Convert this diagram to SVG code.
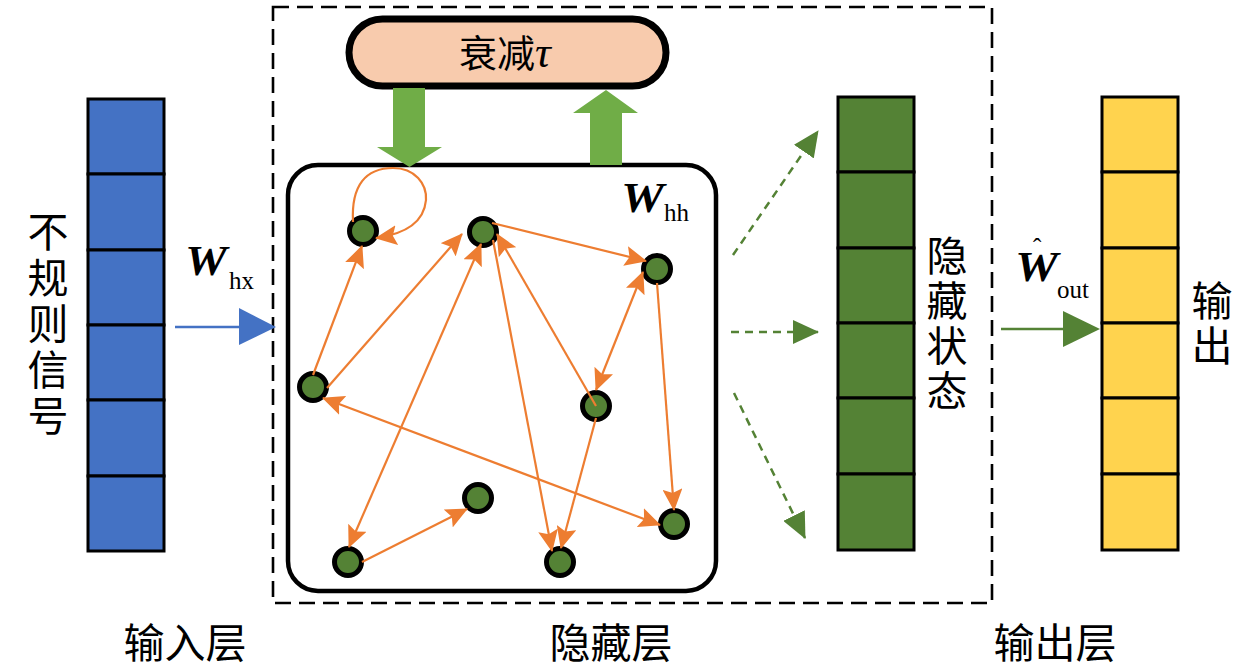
<svg xmlns="http://www.w3.org/2000/svg" width="1260" height="669" viewBox="0 0 1260 669">
<style>
.cjk{font-family:"Noto Sans CJK SC","Noto Sans",sans-serif;fill:#000;}
.lbl{font-size:41px;}
.vt{writing-mode:vertical-rl;}
.cell{stroke:#000;stroke-width:3;}
.in{fill:#4472C4;}
.hid{fill:#548235;}
.out{fill:#FFD34E;}
.node{fill:#548235;stroke:#000;stroke-width:5;}
.edge{fill:none;stroke:#ED7D31;stroke-width:2.2;marker-end:url(#oa);}
.bi{marker-start:url(#oa);}
.dash{fill:none;stroke:#548235;stroke-width:2.5;stroke-dasharray:8 6;marker-end:url(#ga);}
.math{font-family:"Liberation Serif",serif;}
.mw{font-style:italic;font-weight:bold;font-size:42px;}
.sub{font-style:normal;font-weight:normal;font-size:25px;}
</style>
<defs>
<marker id="oa" markerUnits="userSpaceOnUse" markerWidth="22" markerHeight="20" refX="21" refY="10" orient="auto-start-reverse" viewBox="0 0 22 20">
<path d="M0,0 L22,10 L0,20 L4,10 z" fill="#ED7D31"/>
</marker>
<marker id="ga" markerUnits="userSpaceOnUse" markerWidth="26" markerHeight="24" refX="25" refY="12" orient="auto" viewBox="0 0 26 24">
<path d="M0,0 L26,12 L0,24 z" fill="#548235"/>
</marker>
</defs>
<rect width="1260" height="669" fill="#fff"/>

<g id="hidden-layer-frame">
<rect x="273" y="7" width="719" height="596" fill="none" stroke="#000" stroke-width="2.6" stroke-dasharray="16 8"/>
</g>

<g id="input-column">
<rect class="cell in" x="88" y="99" width="76" height="75"/>
<rect class="cell in" x="88" y="174" width="76" height="76"/>
<rect class="cell in" x="88" y="250" width="76" height="75"/>
<rect class="cell in" x="88" y="325" width="76" height="75"/>
<rect class="cell in" x="88" y="400" width="76" height="76"/>
<rect class="cell in" x="88" y="476" width="76" height="75"/>
</g>
<g id="input-label">
<text class="cjk lbl vt" x="48" y="211" letter-spacing="5">不规则信号</text>
</g>

<g id="hidden-state-column">
<rect class="cell hid" x="838" y="97" width="76" height="75"/>
<rect class="cell hid" x="838" y="172" width="76" height="76"/>
<rect class="cell hid" x="838" y="248" width="76" height="75"/>
<rect class="cell hid" x="838" y="323" width="76" height="75"/>
<rect class="cell hid" x="838" y="398" width="76" height="76"/>
<rect class="cell hid" x="838" y="474" width="76" height="76"/>
</g>
<g id="hidden-state-label">
<text class="cjk lbl vt" x="947" y="235" letter-spacing="4">隐藏状态</text>
</g>

<g id="output-column">
<rect class="cell out" x="1102" y="97" width="76" height="75"/>
<rect class="cell out" x="1102" y="172" width="76" height="76"/>
<rect class="cell out" x="1102" y="248" width="76" height="75"/>
<rect class="cell out" x="1102" y="323" width="76" height="75"/>
<rect class="cell out" x="1102" y="398" width="76" height="76"/>
<rect class="cell out" x="1102" y="474" width="76" height="76"/>
</g>
<g id="output-label">
<text class="cjk lbl vt" x="1212" y="280" letter-spacing="4">输出</text>
</g>

<g id="decay">
<rect x="349" y="19" width="317" height="67" rx="33.5" fill="#F8CBAD" stroke="#000" stroke-width="7"/>
<text x="459" y="67" class="cjk" font-size="38">衰减<tspan font-family="Liberation Serif,serif" font-style="italic" font-size="44">τ</tspan></text>
</g>

<g id="reservoir">
<rect x="288" y="165" width="428" height="426" rx="30" fill="#fff" stroke="#000" stroke-width="4.5"/>
<text class="math mw" x="621" y="212"><tspan textLength="43" lengthAdjust="spacingAndGlyphs">W</tspan><tspan class="sub" x="664" y="221">hh</tspan></text>
</g>

<g id="n1"><circle class="node" cx="363" cy="231" r="13.5"/></g>
<g id="n2"><circle class="node" cx="483" cy="232" r="13.5"/></g>
<g id="n3"><circle class="node" cx="657" cy="269" r="13.5"/></g>
<g id="n4"><circle class="node" cx="313" cy="387" r="13.5"/></g>
<g id="n5"><circle class="node" cx="596" cy="406" r="13.5"/></g>
<g id="n6"><circle class="node" cx="478" cy="498" r="13.5"/></g>
<g id="n7"><circle class="node" cx="348" cy="562" r="13.5"/></g>
<g id="n8"><circle class="node" cx="560" cy="562" r="13.5"/></g>
<g id="n9"><circle class="node" cx="674" cy="524" r="13.5"/></g>

<g id="connectors">
<path class="edge" d="M353,222 C351,185 366,168 393,168 C415,168 427,184 426,200 C424,222 405,234 376,238"/>
<line class="edge" x1="313" y1="375" x2="362" y2="246"/>
<line class="edge" x1="327" y1="388" x2="462" y2="234"/>
<line class="edge bi" x1="349" y1="547" x2="481" y2="244"/>
<line class="edge" x1="493" y1="240" x2="552" y2="551"/>
<line class="edge" x1="596" y1="406" x2="497" y2="234"/>
<line class="edge" x1="492" y1="223" x2="646" y2="261"/>
<line class="edge bi" x1="643" y1="272" x2="596" y2="390"/>
<line class="edge" x1="657" y1="283" x2="674" y2="510"/>
<line class="edge" x1="596" y1="418" x2="561" y2="548"/>
<line class="edge bi" x1="323" y1="398" x2="660" y2="525"/>
<line class="edge" x1="362" y1="562" x2="467" y2="509"/>

<polygon points="393,88 425,88 425,147 442,147 409.5,167 377,147 393,147" fill="#70AD47"/>
<polygon points="590,165 622,165 622,113 638,113 606,90 573,113 590,113" fill="#70AD47"/>

<line x1="175" y1="327" x2="242" y2="327" stroke="#4472C4" stroke-width="2.5"/>
<polygon points="239,308 276,327 239,345" fill="#4472C4"/>

<line class="dash" x1="733" y1="255" x2="818" y2="131"/>
<line class="dash" x1="731" y1="332" x2="818" y2="332"/>
<line class="dash" x1="734" y1="393" x2="805" y2="538"/>

<line x1="1001" y1="329" x2="1066" y2="329" stroke="#548235" stroke-width="2.5"/>
<polygon points="1063,311 1100,329 1063,347" fill="#548235"/>
</g>

<g id="weight-labels">
<text class="math mw" x="185" y="275"><tspan textLength="42" lengthAdjust="spacingAndGlyphs">W</tspan><tspan class="sub" x="229" y="289">hx</tspan></text>
<text class="math mw" x="1015" y="281"><tspan class="sub" x="1033" y="256" font-size="24">ˆ</tspan><tspan x="1015" y="281" textLength="43" lengthAdjust="spacingAndGlyphs">W</tspan><tspan class="sub" x="1057" y="298">out</tspan></text>
</g>

<g id="layer-labels">
<text x="185" y="658" class="cjk lbl" text-anchor="middle">输入层</text>
<text x="611" y="658" class="cjk lbl" text-anchor="middle">隐藏层</text>
<text x="1055" y="658" class="cjk lbl" text-anchor="middle">输出层</text>
</g>
</svg>
